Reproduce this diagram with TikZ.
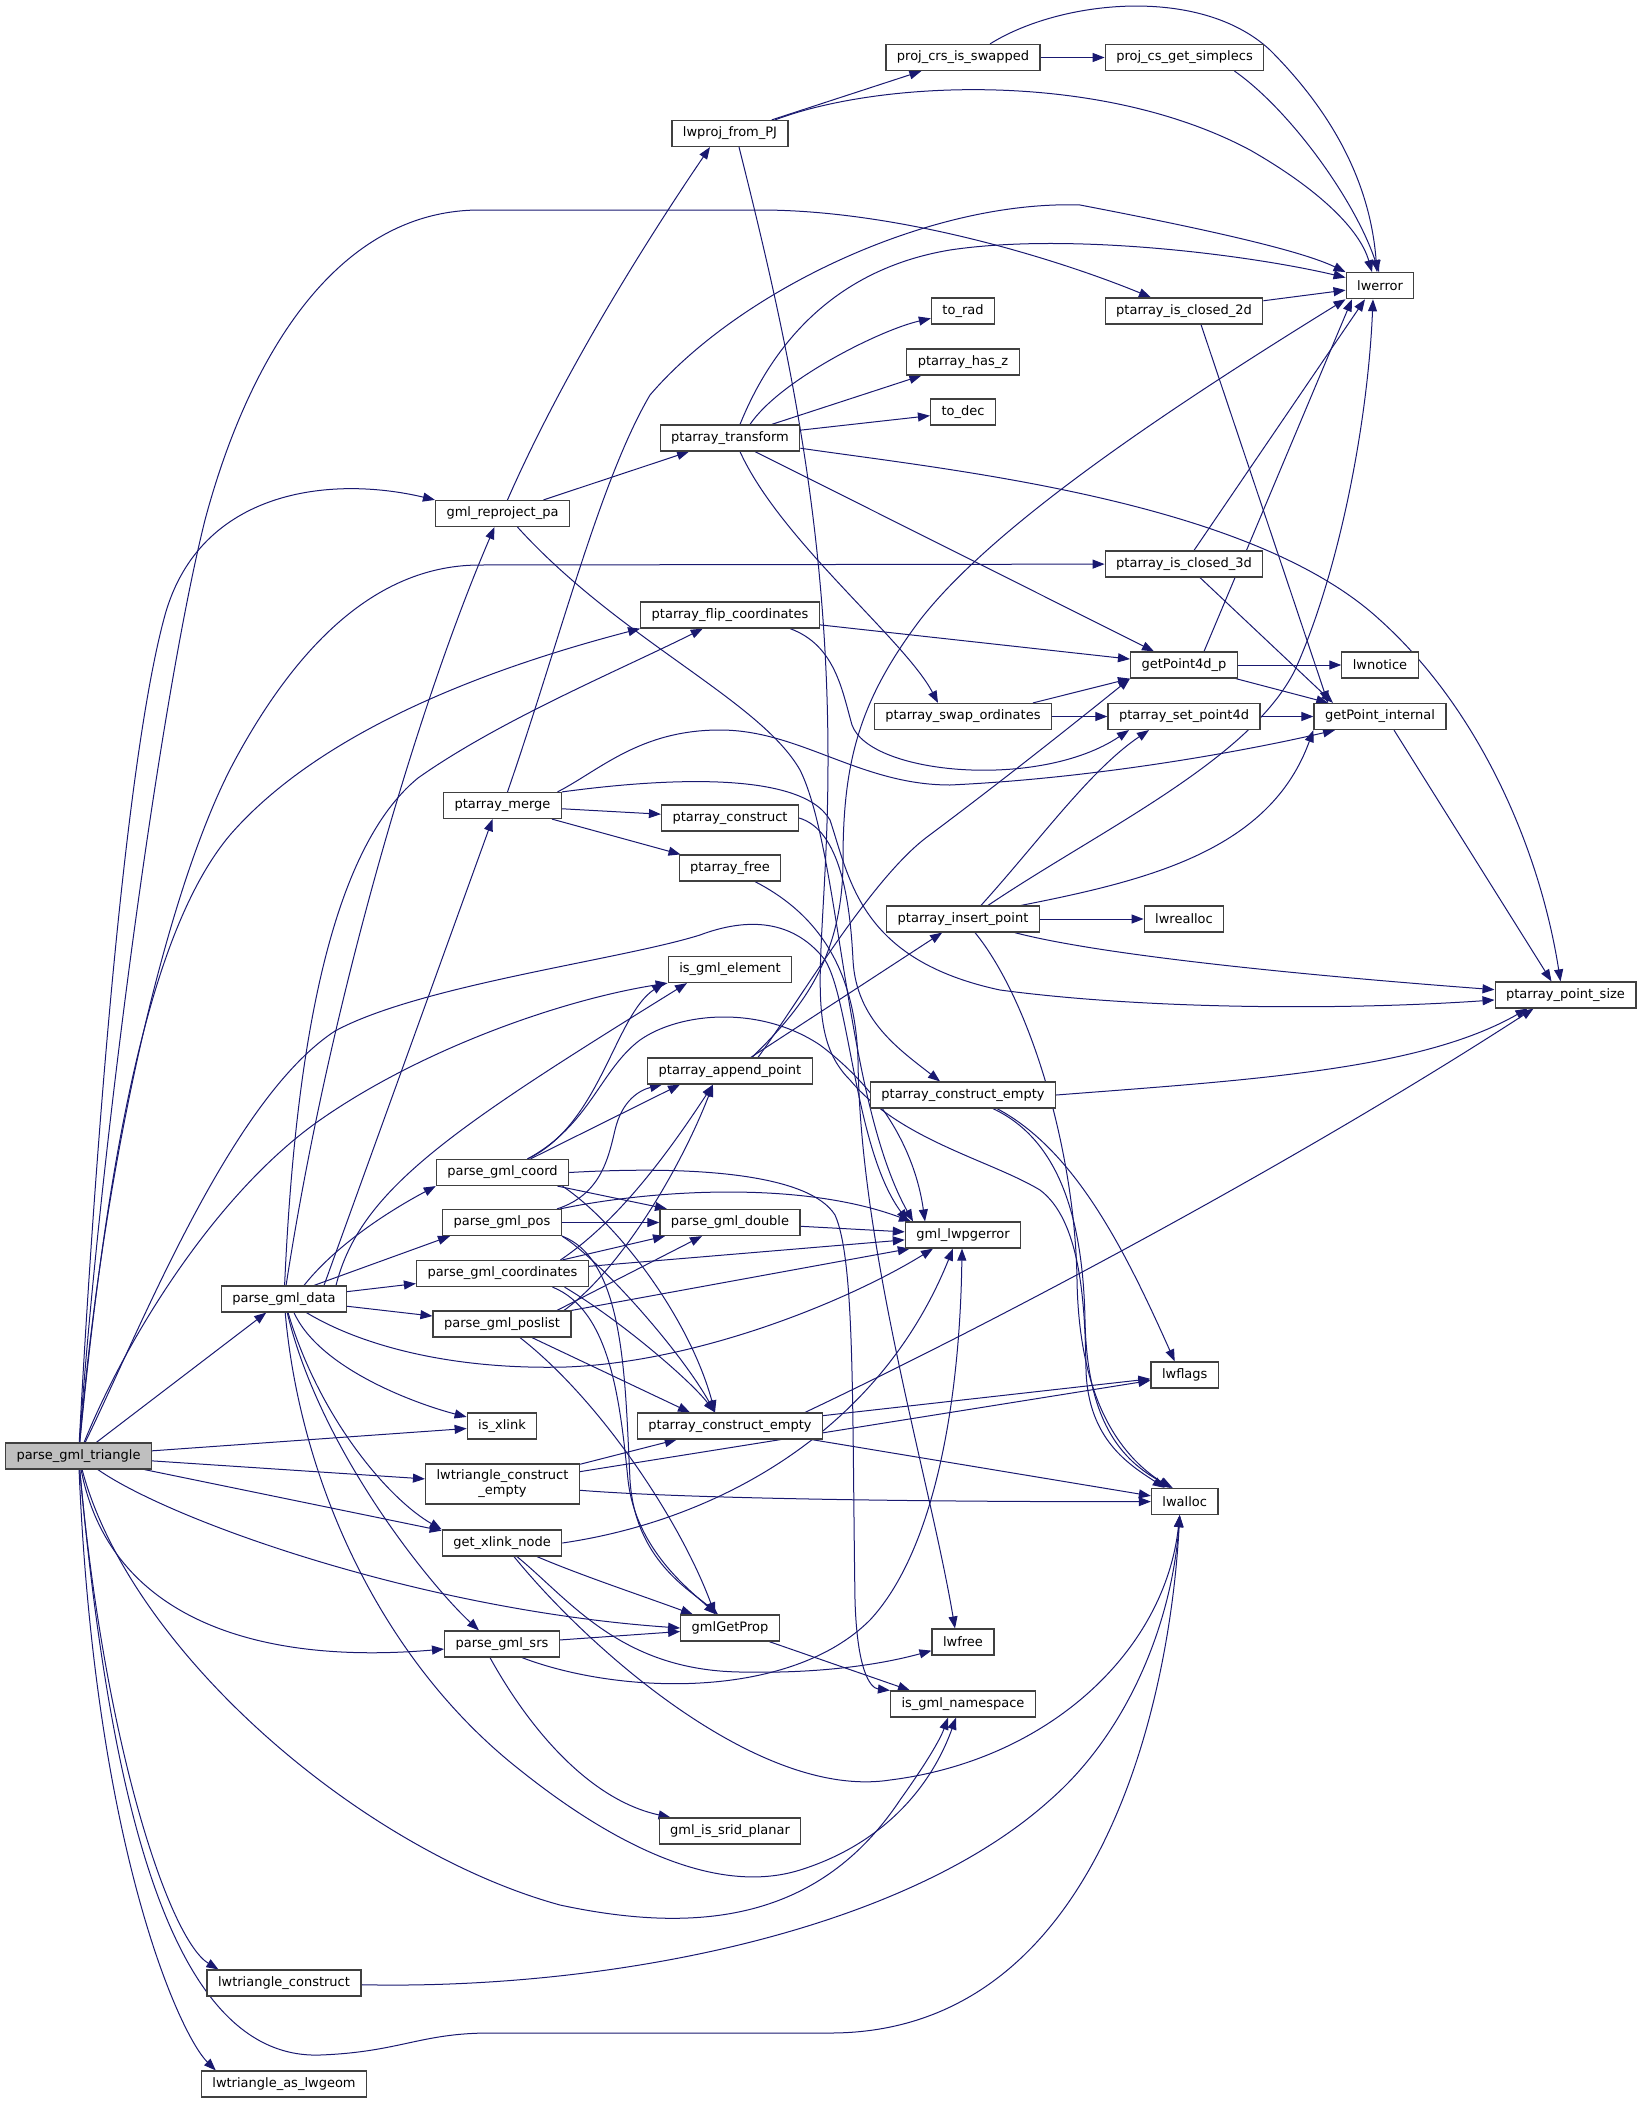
\documentclass[tikz,border=0pt]{standalone}
\usepackage{fontspec}
\setmainfont{DejaVu Sans}
\usetikzlibrary{arrows.meta}
\pgfdeclarelayer{edgelayer}
\pgfsetlayers{edgelayer,main}
\definecolor{edgec}{HTML}{191970}
\definecolor{boxc}{HTML}{404040}
\definecolor{rootc}{HTML}{BFBFBF}
\begin{document}
\begin{tikzpicture}[x=1pt,y=-1pt,
 fn/.style={draw=boxc,line width=1.2pt,fill=white,rectangle,inner xsep=11pt,inner ysep=3pt,minimum height=26pt,font=\fontsize{13}{15}\selectfont},
 rootfn/.style={fn,fill=rootc},
 e/.style={draw=edgec,line width=1pt,-{Triangle[length=12pt,width=9pt]}}]
\useasboundingbox (0,0) rectangle (1643,2103);
% column 1-2
\node[rootfn] (T) at (78.5,1456) {parse\_gml\_triangle};
\node[fn] (data) at (284,1299) {parse\_gml\_data};
\node[fn] (ltc) at (284,1983) {lwtriangle\_construct};
\node[fn] (ltag) at (284,2084) {lwtriangle\_as\_lwgeom};
% column 3
\node[fn] (R) at (502.5,513.5) {gml\_reproject\_pa};
\node[fn] (merge) at (502.5,805.5) {ptarray\_merge};
\node[fn] (coord) at (502.5,1172.5) {parse\_gml\_coord};
\node[fn] (pos) at (502,1222.5) {parse\_gml\_pos};
\node[fn] (coords) at (502.5,1273.5) {parse\_gml\_coordinates};
\node[fn] (poslist) at (502,1324) {parse\_gml\_poslist};
\node[fn] (isx) at (502,1426) {is\_xlink};
\node[fn,align=center,minimum height=40pt,inner ysep=4pt] (ltce) at (502.5,1484) {lwtriangle\_construct\\\_empty};
\node[fn] (gxn) at (502,1543) {get\_xlink\_node};
\node[fn] (srs) at (502,1644) {parse\_gml\_srs};
% column 4
\node[fn] (PJ) at (730,133.5) {lwproj\_from\_PJ};
\node[fn] (xform) at (730,438) {ptarray\_transform};
\node[fn] (flip) at (730,615) {ptarray\_flip\_coordinates};
\node[fn] (pcons) at (730,818) {ptarray\_construct};
\node[fn] (pfree) at (730,868) {ptarray\_free};
\node[fn] (isel) at (730,969.5) {is\_gml\_element};
\node[fn] (app) at (730,1071) {ptarray\_append\_point};
\node[fn] (dbl) at (730,1222.5) {parse\_gml\_double};
\node[fn] (pceB) at (730,1426) {ptarray\_construct\_empty};
\node[fn] (gprop) at (730,1628) {gmlGetProp};
\node[fn] (planar) at (730,1831) {gml\_is\_srid\_planar};
% column 5
\node[fn] (swp) at (963,57.5) {proj\_crs\_is\_swapped};
\node[fn] (rad) at (963,311) {to\_rad};
\node[fn] (hasz) at (963,362) {ptarray\_has\_z};
\node[fn] (dec) at (963,412) {to\_dec};
\node[fn] (swap) at (963,716.5) {ptarray\_swap\_ordinates};
\node[fn] (ins) at (963,919) {ptarray\_insert\_point};
\node[fn] (pceA) at (963,1095) {ptarray\_construct\_empty};
\node[fn] (gerr) at (963,1235) {gml\_lwpgerror};
\node[fn] (lfree) at (963,1642) {lwfree};
\node[fn] (ns) at (963,1704) {is\_gml\_namespace};
% column 6
\node[fn] (simp) at (1184.5,57.5) {proj\_cs\_get\_simplecs};
\node[fn] (cl2) at (1184,311) {ptarray\_is\_closed\_2d};
\node[fn] (cl3) at (1184,564) {ptarray\_is\_closed\_3d};
\node[fn] (gfd) at (1184,665) {getPoint4d\_p};
\node[fn] (setfd) at (1184,716.5) {ptarray\_set\_point4d};
\node[fn] (realloc) at (1184,919) {lwrealloc};
\node[fn] (flags) at (1184.7,1375) {lwflags};
\node[fn] (alloc) at (1184.7,1501.5) {lwalloc};
% column 7-8
\node[fn] (lwerr) at (1380,285.7) {lwerror};
\node[fn] (notice) at (1380,665) {lwnotice};
\node[fn] (gpi) at (1380,716.5) {getPoint\_internal};
\node[fn] (pps) at (1565.5,995) {ptarray\_point\_size};

\begin{pgfonlayer}{edgelayer}
% parse_gml_triangle
\draw[e] (T) -- (data);
\draw[e] (T) .. controls (95,1150) and (125,760) .. (165,615) .. controls (200,490) and (330,475) .. (R.north west);
\draw[e] (T) .. controls (100,1150) and (160,700) .. (205,520) .. controls (245,370) and (330,210) .. (480,210) -- (760,210) .. controls (900,210) and (1060,260) .. (cl2);
\draw[e] (T) .. controls (105,1150) and (170,880) .. (235,760) .. controls (300,640) and (380,565) .. (480,565) -- (cl3);
\draw[e] (T) .. controls (108,1150) and (150,930) .. (230,835) .. controls (330,720) and (520,660) .. (flip.south west);
\draw[e] (T) .. controls (130,1330) and (220,1190) .. (320,1120) .. controls (420,1050) and (560,1000) .. (isel.south west);
\draw[e] (T) .. controls (140,1330) and (230,1100) .. (335,1031) .. controls (420,985) and (620,960) .. (700,935) .. controls (740,920) and (790,915) .. (825,960) .. controls (850,1000) and (855,1150) .. ([xshift=-55]gerr.north);
\draw[e] (T) -- (isx);
\draw[e] (T) -- (ltce);
\draw[e] (T) -- (gxn);
\draw[e] (T) .. controls (170,1520) and (420,1610) .. (gprop.west);
\draw[e] (T) .. controls (110,1620) and (260,1665) .. (srs);
\draw[e] (T) .. controls (130,1650) and (360,1850) .. (560,1905) .. controls (700,1935) and (820,1920) .. (900,1800) .. controls (925,1765) and (940,1740) .. ([xshift=-15]ns.south);
\draw[e] (T) .. controls (110,1800) and (170,2060) .. (320,2055) .. controls (400,2052) and (420,2033) .. (490,2033) -- (830,2033) .. controls (1100,2033) and (1170,1700) .. ([xshift=-5]alloc.south);
\draw[e] (T) .. controls (105,1750) and (170,1940) .. ([xshift=12]ltc.north west);
\draw[e] (T) .. controls (95,1850) and (180,2035) .. ([xshift=15]ltag.north west);
% parse_gml_data
\draw[e] (data) .. controls (330,1000) and (420,700) .. ([xshift=-8]R.south);
\draw[e] (data) .. controls (295,1050) and (330,850) .. (418,778) .. controls (500,720) and (620,670) .. (flip);
\draw[e] ([xshift=40]data.north) -- ([xshift=-10]merge.south);
\draw[e] ([xshift=52]data.north) .. controls (360,1190) and (450,1130) .. ([xshift=-43]isel.south);
\draw[e] ([xshift=20]data.north) .. controls (340,1240) and (400,1205) .. (coord.south west);
\draw[e] ([xshift=30]data.north) -- ([xshift=-52]pos.south);
\draw[e] (data) -- (coords);
\draw[e] (data) -- (poslist);
\draw[e] (data) .. controls (360,1345) and (450,1370) .. (566,1367) .. controls (700,1362) and (850,1300) .. ([xshift=-30]gerr.south);
\draw[e] ([xshift=10]data.south) .. controls (320,1370) and (420,1405) .. (isx);
\draw[e] (data) .. controls (320,1420) and (390,1500) .. (gxn.north west);
\draw[e] (data) .. controls (320,1450) and (430,1585) .. ([xshift=-23]srs.north);
\draw[e] (data) .. controls (300,1480) and (380,1660) .. (520,1770) .. controls (620,1850) and (720,1895) .. (800,1870) .. controls (880,1845) and (930,1790) .. ([xshift=-7]ns.south);
% gml_reproject_pa
\draw[e] ([xshift=5]R.north) .. controls (560,380) and (640,250) .. ([xshift=-20]PJ.south);
\draw[e] (R) -- (xform);
\draw[e] ([xshift=15]R.south) .. controls (620,640) and (760,700) .. (800,770) .. controls (840,850) and (845,1100) .. ([xshift=-50]gerr.north);
% lwproj_from_PJ
\draw[e] (PJ) -- (swp);
\draw[e] ([xshift=45]PJ.north) .. controls (880,80) and (1100,70) .. (1250,150) .. controls (1320,190) and (1360,230) .. ([xshift=-8]lwerr.north);
\draw[e] ([xshift=9]PJ.south) .. controls (785,330) and (828,520) .. (828,760) .. controls (828,950) and (800,1030) .. (850,1080) .. controls (900,1140) and (990,1160) .. (1040,1190) .. controls (1080,1220) and (1085,1300) .. (1086,1370) .. controls (1088,1440) and (1130,1465) .. ([xshift=-20]alloc.north);
% proj
\draw[e] (swp) -- (simp);
\draw[e] ([xshift=27]swp.north) .. controls (1060,0) and (1200,-15) .. (1270,50) .. controls (1330,110) and (1370,180) .. ([xshift=-3]lwerr.north);
\draw[e] ([xshift=50]simp.south) .. controls (1290,110) and (1355,200) .. ([xshift=-1]lwerr.north);
% ptarray_transform
\draw[e] ([xshift=20]xform.north) .. controls (780,380) and (880,330) .. (rad);
\draw[e] (xform) -- (hasz);
\draw[e] (xform) -- (dec);
\draw[e] ([xshift=10]xform.north) .. controls (770,350) and (830,270) .. (950,250) .. controls (1070,232) and (1250,255) .. (lwerr);
\draw[e] ([xshift=10]xform.south) .. controls (780,540) and (905,640) .. ([xshift=-25]swap.north);
\draw[e] ([xshift=25]xform.south) -- ([xshift=-30]gfd.north);
\draw[e] (xform) .. controls (950,470) and (1250,500) .. (1380,620) .. controls (1480,710) and (1540,850) .. ([xshift=-5]pps.north);
% ptarray_flip_coordinates
\draw[e] (flip) -- (gfd);
\draw[e] ([xshift=60]flip.south) .. controls (835,645) and (842,690) .. (852,725) .. controls (870,775) and (1040,790) .. ([xshift=-55]setfd.south);
% ptarray_merge
\draw[e] ([xshift=5]merge.north) .. controls (560,640) and (600,480) .. (650,395) .. controls (740,290) and (930,200) .. (1080,205) .. controls (1200,228) and (1300,250) .. (lwerr.north west);
\draw[e] (merge) -- (pcons);
\draw[e] (merge) -- (pfree);
\draw[e] ([xshift=55]merge.north) .. controls (600,770) and (640,730) .. (720,730) .. controls (800,730) and (860,785) .. (950,785) .. controls (1100,778) and (1250,750) .. ([xshift=-45]gpi.south);
\draw[e] (merge.north east) .. controls (650,780) and (800,768) .. (830,820) .. controls (850,880) and (860,960) .. (1000,990) .. controls (1150,1010) and (1350,1010) .. (pps);
% construct / free
\draw[e] (pcons.east) .. controls (840,830) and (850,900) .. (853,960) .. controls (856,1020) and (900,1050) .. ([xshift=-23]pceA.north);
\draw[e] ([xshift=25]pfree.south) .. controls (810,910) and (855,960) .. (858,1060) .. controls (860,1250) and (930,1480) .. ([xshift=-8]lfree.north);
% ptarray_append_point
\draw[e] (app) -- (ins);
\draw[e] ([xshift=22]app.north) .. controls (800,1010) and (843,960) .. (843,860) .. controls (843,760) and (860,700) .. (920,620) .. controls (990,530) and (1150,420) .. (lwerr.south west);
\draw[e] ([xshift=28]app.north) .. controls (800,1000) and (870,880) .. (927,837) .. controls (990,790) and (1060,735) .. (gfd.south west);
% ptarray_insert_point
\draw[e] ([xshift=18]ins.north) .. controls (1040,840) and (1090,770) .. ([xshift=-35]setfd.south);
\draw[e] ([xshift=25]ins.north) .. controls (1100,830) and (1250,760) .. (1295,670) .. controls (1340,570) and (1368,420) .. ([xshift=-7]lwerr.south);
\draw[e] ([xshift=58]ins.north) .. controls (1150,880) and (1270,850) .. (gpi.south west);
\draw[e] (ins) -- (realloc);
\draw[e] (ins) .. controls (1100,955) and (1300,975) .. (pps);
\draw[e] ([xshift=12]ins.south) .. controls (1030,1000) and (1075,1150) .. (1077,1280) .. controls (1079,1400) and (1120,1455) .. ([xshift=-14]alloc.north);
% getPoint4d_p etc
\draw[e] ([xshift=20]gfd.north) -- ([xshift=-28]lwerr.south);
\draw[e] (gfd) -- (notice);
\draw[e] (gfd) -- (gpi);
\draw[e] ([xshift=70]swap.north) -- (gfd.south west);
\draw[e] (swap) -- (setfd);
\draw[e] (setfd) -- (gpi);
\draw[e] (cl2) -- (lwerr);
\draw[e] ([xshift=17]cl2.south) -- ([xshift=-52]gpi.north);
\draw[e] ([xshift=10]cl3.north) -- ([xshift=-15]lwerr.south);
\draw[e] ([xshift=16]cl3.south) -- ([xshift=-47]gpi.north);
\draw[e] ([xshift=14]gpi.south) -- ([xshift=-14]pps.north);
% ptarray_construct_empty (upper)
\draw[e] (pceA.east) .. controls (1250,1080) and (1420,1070) .. ([xshift=-38]pps.south);
\draw[e] ([xshift=30]pceA.south) .. controls (1060,1140) and (1083,1220) .. (1085,1320) .. controls (1087,1420) and (1120,1460) .. ([xshift=-12]alloc.north);
\draw[e] ([xshift=34]pceA.south) .. controls (1075,1150) and (1125,1250) .. ([xshift=-10]flags.north);
% ptarray_construct_empty (lower)
\draw[e] (pceB) -- (flags);
\draw[e] (pceB) -- (alloc);
\draw[e] ([xshift=75]pceB.north) .. controls (1000,1320) and (1300,1160) .. ([xshift=-32]pps.south);
% lwtriangle_construct_empty / lwtriangle_construct
\draw[e] (ltce) -- (pceB);
\draw[e] (ltce) -- (flags);
\draw[e] (ltce) .. controls (700,1500) and (1000,1502) .. (alloc);
\draw[e] (ltc) .. controls (600,1990) and (900,1935) .. (1050,1800) .. controls (1130,1730) and (1172,1620) .. ([xshift=-5]alloc.south);
% get_xlink_node
\draw[e] (gxn.east) .. controls (720,1520) and (880,1430) .. ([xshift=-10]gerr.south);
\draw[e] ([xshift=35]gxn.south) .. controls (580,1575) and (640,1595) .. (gprop);
\draw[e] ([xshift=15]gxn.south) .. controls (570,1600) and (620,1670) .. (740,1672) .. controls (830,1674) and (890,1662) .. (lfree);
\draw[e] ([xshift=12]gxn.south) .. controls (590,1650) and (760,1800) .. (890,1780) .. controls (1050,1760) and (1165,1650) .. ([xshift=-5]alloc.south);
% parse_gml_srs
\draw[e] (srs) -- (gprop);
\draw[e] ([xshift=20]srs.south) .. controls (620,1695) and (790,1700) .. (870,1620) .. controls (935,1550) and (960,1400) .. ([xshift=-1]gerr.south);
\draw[e] ([xshift=-12]srs.south) .. controls (530,1730) and (590,1800) .. ([xshift=12]planar.north west);
% gmlGetProp
\draw[e] (gprop) -- ([xshift=-53]ns.north);
% parse_gml_coord
\draw[e] ([xshift=25]coord.north) .. controls (600,1125) and (615,1015) .. ([xshift=-66]isel.south);
\draw[e] ([xshift=28]coord.north) -- ([xshift=-50]app.south);
\draw[e] ([xshift=25]coord.north) .. controls (590,1125) and (600,1070) .. (640,1040) .. controls (680,1012) and (760,1005) .. (820,1045) .. controls (880,1090) and (915,1150) .. ([xshift=-38]gerr.north);
\draw[e] (coord.east) .. controls (700,1165) and (810,1175) .. (835,1215) .. controls (855,1260) and (852,1400) .. (855,1600) .. controls (857,1670) and (870,1688) .. (ns.north west);
\draw[e] ([xshift=55]coord.south) -- ([xshift=-63]dbl.north);
\draw[e] ([xshift=60]coord.south) .. controls (620,1225) and (690,1320) .. ([xshift=-15]pceB.north);
% parse_gml_pos
\draw[e] (pos) -- (dbl);
\draw[e] ([xshift=55]pos.north) .. controls (600,1195) and (608,1160) .. (615,1130) .. controls (622,1100) and (640,1090) .. ([xshift=-68]app.south);
\draw[e] ([xshift=58]pos.north) .. controls (650,1190) and (800,1180) .. ([xshift=-52]gerr.north);
\draw[e] (pos.south east) .. controls (600,1260) and (680,1350) .. ([xshift=-15]pceB.north);
\draw[e] (pos.south east) .. controls (625,1260) and (625,1380) .. (630,1480) .. controls (635,1560) and (690,1590) .. ([xshift=-12]gprop.north);
% parse_gml_coordinates
\draw[e] ([xshift=58]coords.north) .. controls (620,1220) and (670,1150) .. ([xshift=-17]app.south);
\draw[e] ([xshift=60]coords.north) -- ([xshift=-65]dbl.south);
\draw[e] (coords) -- (gerr);
\draw[e] ([xshift=50]coords.south) .. controls (610,1310) and (620,1400) .. (628,1480) .. controls (636,1550) and (690,1590) .. ([xshift=-14]gprop.north);
\draw[e] ([xshift=62]coords.south) .. controls (620,1320) and (690,1380) .. ([xshift=-15]pceB.north);
% parse_gml_poslist
\draw[e] ([xshift=62]poslist.north) .. controls (620,1270) and (680,1170) .. ([xshift=-17]app.south);
\draw[e] ([xshift=55]poslist.north) -- ([xshift=-28]dbl.south);
\draw[e] (poslist.north east) -- ([xshift=5]gerr.south west);
\draw[e] ([xshift=18]poslist.south) .. controls (600,1400) and (680,1520) .. ([xshift=-15]gprop.north);
\draw[e] ([xshift=30]poslist.south) -- ([xshift=-40]pceB.north);
% parse_gml_double
\draw[e] (dbl) -- (gerr);
\end{pgfonlayer}
\end{tikzpicture}
\end{document}
